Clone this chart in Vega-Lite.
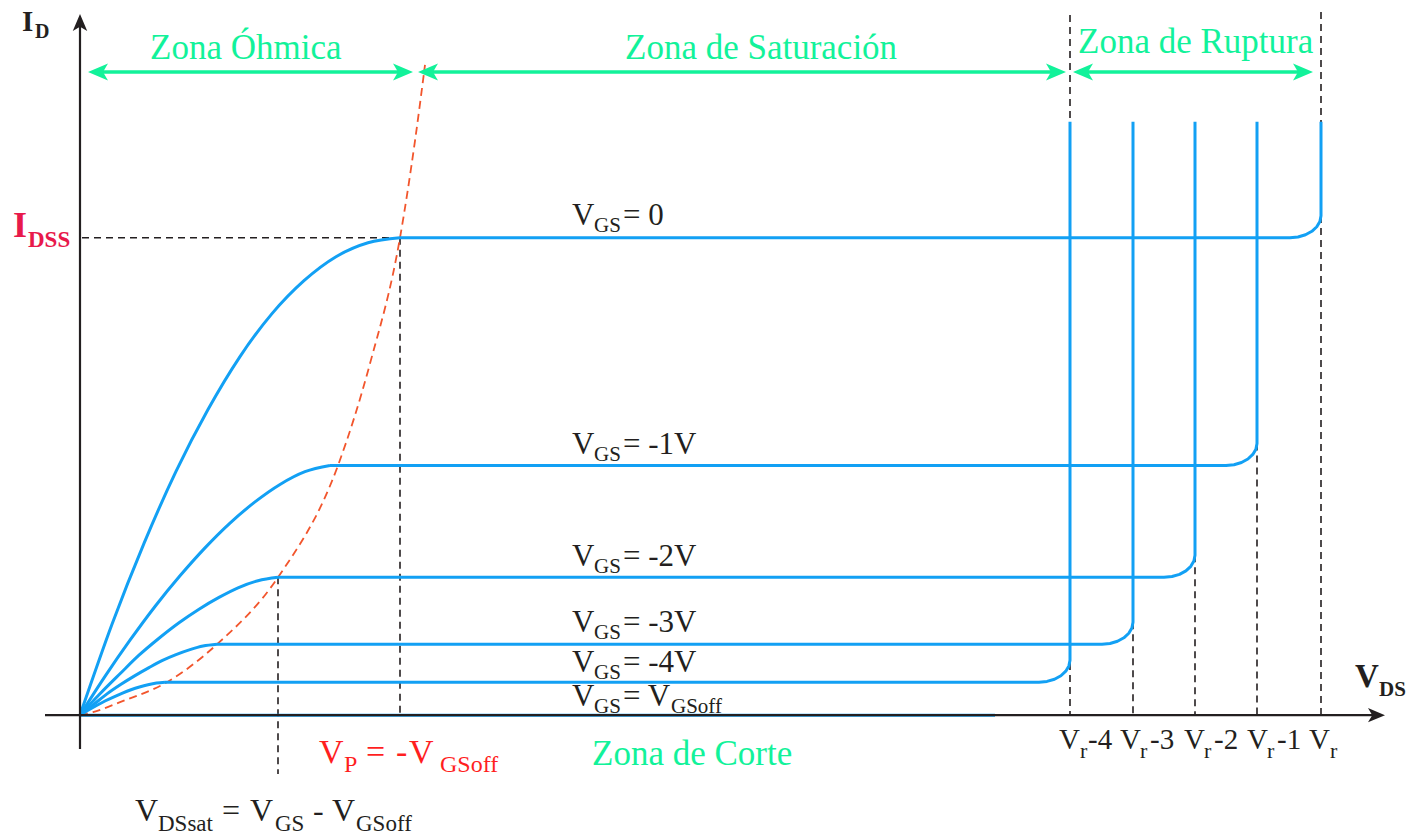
{
  "$schema": "https://vega.github.io/schema/vega-lite/v6.json",
  "width": 1424,
  "height": 836,
  "autosize": {"type": "fit", "contains": "padding"},
  "padding": 0,
  "background": "white",
  "config": {"view": {"stroke": null}},
  "datasets": {
    "curves": [
      {"vgs": "0", "part": "ohmic", "i": 0, "x": 0, "y": 0}, {"vgs": "0", "part": "ohmic", "i": 1, "x": 32, "y": 91}, {"vgs": "0", "part": "ohmic", "i": 2, "x": 64, "y": 172},
      {"vgs": "0", "part": "ohmic", "i": 3, "x": 96, "y": 244}, {"vgs": "0", "part": "ohmic", "i": 4, "x": 128, "y": 306}, {"vgs": "0", "part": "ohmic", "i": 5, "x": 160, "y": 359},
      {"vgs": "0", "part": "ohmic", "i": 6, "x": 192, "y": 402}, {"vgs": "0", "part": "ohmic", "i": 7, "x": 224, "y": 435}, {"vgs": "0", "part": "ohmic", "i": 8, "x": 256, "y": 459},
      {"vgs": "0", "part": "ohmic", "i": 9, "x": 288, "y": 473}, {"vgs": "0", "part": "ohmic", "i": 10, "x": 320, "y": 478},
      {"vgs": "0", "part": "rest", "i": 0, "x": 320, "y": 478}, {"vgs": "0", "part": "rest", "i": 1, "x": 1210, "y": 478},
      {"vgs": "0", "part": "rest", "i": 2, "x": 1218, "y": 478.75}, {"vgs": "0", "part": "rest", "i": 3, "x": 1225.5, "y": 480.95},
      {"vgs": "0", "part": "rest", "i": 4, "x": 1231.9, "y": 484.44}, {"vgs": "0", "part": "rest", "i": 5, "x": 1236.8, "y": 489},
      {"vgs": "0", "part": "rest", "i": 6, "x": 1239.9, "y": 494.3}, {"vgs": "0", "part": "rest", "i": 7, "x": 1241, "y": 500},
      {"vgs": "0", "part": "rest", "i": 8, "x": 1241, "y": 594},

      {"vgs": "-1", "part": "ohmic", "i": 0, "x": 0, "y": 0}, {"vgs": "-1", "part": "ohmic", "i": 1, "x": 25, "y": 38.8}, {"vgs": "-1", "part": "ohmic", "i": 2, "x": 50, "y": 75},
      {"vgs": "-1", "part": "ohmic", "i": 3, "x": 75, "y": 108.8}, {"vgs": "-1", "part": "ohmic", "i": 4, "x": 100, "y": 139.5}, {"vgs": "-1", "part": "ohmic", "i": 5, "x": 125, "y": 167.5},
      {"vgs": "-1", "part": "ohmic", "i": 6, "x": 150, "y": 192.3}, {"vgs": "-1", "part": "ohmic", "i": 7, "x": 175, "y": 213.5}, {"vgs": "-1", "part": "ohmic", "i": 8, "x": 200, "y": 231},
      {"vgs": "-1", "part": "ohmic", "i": 9, "x": 225, "y": 243.8}, {"vgs": "-1", "part": "ohmic", "i": 10, "x": 250, "y": 250},
      {"vgs": "-1", "part": "rest", "i": 0, "x": 250, "y": 250}, {"vgs": "-1", "part": "rest", "i": 1, "x": 1146, "y": 250},
      {"vgs": "-1", "part": "rest", "i": 2, "x": 1154, "y": 250.75}, {"vgs": "-1", "part": "rest", "i": 3, "x": 1161.5, "y": 252.95},
      {"vgs": "-1", "part": "rest", "i": 4, "x": 1167.9, "y": 256.44}, {"vgs": "-1", "part": "rest", "i": 5, "x": 1172.8, "y": 261},
      {"vgs": "-1", "part": "rest", "i": 6, "x": 1175.9, "y": 266.3}, {"vgs": "-1", "part": "rest", "i": 7, "x": 1177, "y": 272},
      {"vgs": "-1", "part": "rest", "i": 8, "x": 1177, "y": 594},

      {"vgs": "-2", "part": "ohmic", "i": 0, "x": 0, "y": 0}, {"vgs": "-2", "part": "ohmic", "i": 1, "x": 20, "y": 21.4}, {"vgs": "-2", "part": "ohmic", "i": 2, "x": 40, "y": 41.4},
      {"vgs": "-2", "part": "ohmic", "i": 3, "x": 59, "y": 60}, {"vgs": "-2", "part": "ohmic", "i": 4, "x": 79, "y": 77}, {"vgs": "-2", "part": "ohmic", "i": 5, "x": 99, "y": 92.5},
      {"vgs": "-2", "part": "ohmic", "i": 6, "x": 119, "y": 106.1}, {"vgs": "-2", "part": "ohmic", "i": 7, "x": 139, "y": 117.9}, {"vgs": "-2", "part": "ohmic", "i": 8, "x": 158, "y": 127.5},
      {"vgs": "-2", "part": "ohmic", "i": 9, "x": 178, "y": 134.6}, {"vgs": "-2", "part": "ohmic", "i": 10, "x": 198, "y": 138},
      {"vgs": "-2", "part": "rest", "i": 0, "x": 198, "y": 138}, {"vgs": "-2", "part": "rest", "i": 1, "x": 1084, "y": 138},
      {"vgs": "-2", "part": "rest", "i": 2, "x": 1092, "y": 138.75}, {"vgs": "-2", "part": "rest", "i": 3, "x": 1099.5, "y": 140.95},
      {"vgs": "-2", "part": "rest", "i": 4, "x": 1105.9, "y": 144.44}, {"vgs": "-2", "part": "rest", "i": 5, "x": 1110.8, "y": 149},
      {"vgs": "-2", "part": "rest", "i": 6, "x": 1113.9, "y": 154.3}, {"vgs": "-2", "part": "rest", "i": 7, "x": 1115, "y": 160},
      {"vgs": "-2", "part": "rest", "i": 8, "x": 1115, "y": 594},

      {"vgs": "-3", "part": "ohmic", "i": 0, "x": 0, "y": 0}, {"vgs": "-3", "part": "ohmic", "i": 1, "x": 14, "y": 11}, {"vgs": "-3", "part": "ohmic", "i": 2, "x": 27, "y": 21.3},
      {"vgs": "-3", "part": "ohmic", "i": 3, "x": 41, "y": 30.9}, {"vgs": "-3", "part": "ohmic", "i": 4, "x": 55, "y": 39.6}, {"vgs": "-3", "part": "ohmic", "i": 5, "x": 69, "y": 47.6},
      {"vgs": "-3", "part": "ohmic", "i": 6, "x": 82, "y": 54.6}, {"vgs": "-3", "part": "ohmic", "i": 7, "x": 96, "y": 60.6}, {"vgs": "-3", "part": "ohmic", "i": 8, "x": 110, "y": 65.6},
      {"vgs": "-3", "part": "ohmic", "i": 9, "x": 123, "y": 69.2}, {"vgs": "-3", "part": "ohmic", "i": 10, "x": 137, "y": 71},
      {"vgs": "-3", "part": "rest", "i": 0, "x": 137, "y": 71}, {"vgs": "-3", "part": "rest", "i": 1, "x": 1022, "y": 71},
      {"vgs": "-3", "part": "rest", "i": 2, "x": 1030, "y": 71.75}, {"vgs": "-3", "part": "rest", "i": 3, "x": 1037.5, "y": 73.95},
      {"vgs": "-3", "part": "rest", "i": 4, "x": 1043.9, "y": 77.44}, {"vgs": "-3", "part": "rest", "i": 5, "x": 1048.8, "y": 82},
      {"vgs": "-3", "part": "rest", "i": 6, "x": 1051.9, "y": 87.3}, {"vgs": "-3", "part": "rest", "i": 7, "x": 1053, "y": 93},
      {"vgs": "-3", "part": "rest", "i": 8, "x": 1053, "y": 594},

      {"vgs": "-4", "part": "ohmic", "i": 0, "x": 0, "y": 0}, {"vgs": "-4", "part": "ohmic", "i": 1, "x": 8.5, "y": 5.1}, {"vgs": "-4", "part": "ohmic", "i": 2, "x": 17, "y": 9.9},
      {"vgs": "-4", "part": "ohmic", "i": 3, "x": 25.5, "y": 14.4}, {"vgs": "-4", "part": "ohmic", "i": 4, "x": 34, "y": 18.4}, {"vgs": "-4", "part": "ohmic", "i": 5, "x": 42.5, "y": 22.1},
      {"vgs": "-4", "part": "ohmic", "i": 6, "x": 51, "y": 25.4}, {"vgs": "-4", "part": "ohmic", "i": 7, "x": 59.5, "y": 28.2}, {"vgs": "-4", "part": "ohmic", "i": 8, "x": 68, "y": 30.5},
      {"vgs": "-4", "part": "ohmic", "i": 9, "x": 76.5, "y": 32.2}, {"vgs": "-4", "part": "ohmic", "i": 10, "x": 85, "y": 33},
      {"vgs": "-4", "part": "rest", "i": 0, "x": 85, "y": 33}, {"vgs": "-4", "part": "rest", "i": 1, "x": 959, "y": 33},
      {"vgs": "-4", "part": "rest", "i": 2, "x": 967, "y": 33.75}, {"vgs": "-4", "part": "rest", "i": 3, "x": 974.5, "y": 35.95},
      {"vgs": "-4", "part": "rest", "i": 4, "x": 980.9, "y": 39.44}, {"vgs": "-4", "part": "rest", "i": 5, "x": 985.8, "y": 44},
      {"vgs": "-4", "part": "rest", "i": 6, "x": 988.9, "y": 49.3}, {"vgs": "-4", "part": "rest", "i": 7, "x": 990, "y": 55},
      {"vgs": "-4", "part": "rest", "i": 8, "x": 990, "y": 594},

      {"vgs": "off", "part": "rest", "i": 0, "x": 0, "y": 0}, {"vgs": "off", "part": "rest", "i": 1, "x": 915, "y": 0}
    ],
    "locus": [
      {"x": 0, "y": 0}, {"x": 13, "y": 3}, {"x": 40, "y": 13}, {"x": 87, "y": 33}, {"x": 137, "y": 71},
      {"x": 198, "y": 138}, {"x": 258, "y": 250}, {"x": 290, "y": 352}, {"x": 320, "y": 478},
      {"x": 335, "y": 575}, {"x": 345, "y": 651}
    ],
    "guides": [
      {"x": 2, "y": 478, "x2": 320, "y2": 478},
      {"x": 320, "y": 478, "x2": 320, "y2": 0},
      {"x": 198, "y": 138, "x2": 198, "y2": -59},
      {"x": 990, "y": 701, "x2": 990, "y2": 0},
      {"x": 1053, "y": 93, "x2": 1053, "y2": 0},
      {"x": 1115, "y": 160, "x2": 1115, "y2": 0},
      {"x": 1177, "y": 272, "x2": 1177, "y2": 0},
      {"x": 1241, "y": 704, "x2": 1241, "y2": 0}
    ],
    "axes": [
      {"x": -35, "y": 0, "x2": 1298, "y2": 0},
      {"x": 0, "y": -34, "x2": 0, "y2": 692}
    ],
    "heads": [
      {"set": "axis", "dir": "right", "x": 1305, "y": 0},
      {"set": "axis", "dir": "up", "x": 0, "y": 702},
      {"set": "zone", "dir": "left", "x": 8, "y": 644},
      {"set": "zone", "dir": "right", "x": 333, "y": 644},
      {"set": "zone", "dir": "left", "x": 338, "y": 644},
      {"set": "zone", "dir": "right", "x": 986, "y": 644},
      {"set": "zone", "dir": "left", "x": 993, "y": 644},
      {"set": "zone", "dir": "right", "x": 1233, "y": 644}
    ],
    "spans": [
      {"x": 20, "x2": 321, "y": 644},
      {"x": 350, "x2": 974, "y": 644},
      {"x": 1005, "x2": 1221, "y": 644}
    ],
    "labels": [
      {"x": -58, "y": 685, "t": "I", "kind": "id"},
      {"x": -45, "y": 678, "t": "D", "kind": "idSub"},
      {"x": -67, "y": 479, "t": "I", "kind": "idss"},
      {"x": -52, "y": 469, "t": "DSS", "kind": "idssSub"},
      {"x": 1275, "y": 28, "t": "V", "kind": "vds"},
      {"x": 1299, "y": 19, "t": "DS", "kind": "vdsSub"},

      {"x": 70, "y": 657, "t": "Zona Óhmica", "kind": "zone"},
      {"x": 545, "y": 657, "t": "Zona de Saturación", "kind": "zone"},
      {"x": 998, "y": 663, "t": "Zona de Ruptura", "kind": "zone"},
      {"x": 512, "y": -50, "t": "Zona de Corte", "kind": "zone"},

      {"x": 492, "y": 491, "t": "V", "kind": "vgs"}, {"x": 514, "y": 484, "t": "GS", "kind": "vgsSub"}, {"x": 543, "y": 491, "t": "= 0", "kind": "vgs"},
      {"x": 492, "y": 261, "t": "V", "kind": "vgs"}, {"x": 514, "y": 254, "t": "GS", "kind": "vgsSub"}, {"x": 543, "y": 261, "t": "= -1V", "kind": "vgs"},
      {"x": 492, "y": 149, "t": "V", "kind": "vgs"}, {"x": 514, "y": 142, "t": "GS", "kind": "vgsSub"}, {"x": 543, "y": 149, "t": "= -2V", "kind": "vgs"},
      {"x": 492, "y": 83, "t": "V", "kind": "vgs"}, {"x": 514, "y": 76, "t": "GS", "kind": "vgsSub"}, {"x": 543, "y": 83, "t": "= -3V", "kind": "vgs"},
      {"x": 492, "y": 43, "t": "V", "kind": "vgs"}, {"x": 514, "y": 36, "t": "GS", "kind": "vgsSub"}, {"x": 543, "y": 43, "t": "= -4V", "kind": "vgs"},
      {"x": 492, "y": 9, "t": "V", "kind": "vgs"}, {"x": 514, "y": 2, "t": "GS", "kind": "vgsSub"}, {"x": 543, "y": 9, "t": "= V", "kind": "vgs"},
      {"x": 591, "y": 2, "t": "GSoff", "kind": "vgsSub"},

      {"x": 979, "y": -34, "t": "V", "kind": "vr"}, {"x": 1000, "y": -43, "t": "r", "kind": "vrSub"}, {"x": 1008, "y": -34, "t": "-4", "kind": "vr"},
      {"x": 1040, "y": -34, "t": "V", "kind": "vr"}, {"x": 1060, "y": -43, "t": "r", "kind": "vrSub"}, {"x": 1070, "y": -34, "t": "-3", "kind": "vr"},
      {"x": 1104, "y": -34, "t": "V", "kind": "vr"}, {"x": 1124, "y": -43, "t": "r", "kind": "vrSub"}, {"x": 1134, "y": -34, "t": "-2", "kind": "vr"},
      {"x": 1167, "y": -34, "t": "V", "kind": "vr"}, {"x": 1187, "y": -43, "t": "r", "kind": "vrSub"}, {"x": 1197, "y": -34, "t": "-1", "kind": "vr"},
      {"x": 1229, "y": -34, "t": "V", "kind": "vr"}, {"x": 1250, "y": -43, "t": "r", "kind": "vrSub"},

      {"x": 239, "y": -48, "t": "V", "kind": "vp"}, {"x": 264, "y": -57, "t": "P", "kind": "vpSub"},
      {"x": 286, "y": -48, "t": "=", "kind": "vp"}, {"x": 316, "y": -48, "t": "-", "kind": "vp"},
      {"x": 329, "y": -48, "t": "V", "kind": "vp"}, {"x": 360, "y": -57, "t": "GSoff", "kind": "vpSub"},

      {"x": 55, "y": -106, "t": "V", "kind": "vdssat"}, {"x": 78, "y": -116, "t": "DSsat", "kind": "vdssatSub"},
      {"x": 142, "y": -106, "t": "=", "kind": "vdssat"}, {"x": 170, "y": -106, "t": "V", "kind": "vdssat"},
      {"x": 195, "y": -116, "t": "GS", "kind": "vdssatSub"}, {"x": 233, "y": -106, "t": "-", "kind": "vdssat"},
      {"x": 252, "y": -106, "t": "V", "kind": "vdssat"}, {"x": 276, "y": -116, "t": "GSoff", "kind": "vdssatSub"}
    ]
  },
  "encoding": {
    "x": {"field": "x", "type": "quantitative", "scale": {"domain": [-80, 1344], "nice": false, "zero": false}, "axis": null},
    "y": {"field": "y", "type": "quantitative", "scale": {"domain": [-120, 716], "nice": false, "zero": false}, "axis": null}
  },
  "layer": [
    {
      "data": {"name": "guides"},
      "mark": {"type": "rule", "color": "#231f20", "strokeWidth": 1.6, "strokeDash": [7, 5]},
      "encoding": {"x2": {"field": "x2"}, "y2": {"field": "y2"}}
    },
    {
      "data": {"name": "locus"},
      "mark": {"type": "line", "interpolate": "monotone", "color": "#f2552c", "strokeWidth": 1.8, "strokeDash": [8, 5]},
      "encoding": {}
    },
    {
      "data": {"name": "curves"},
      "transform": [{"filter": "datum.part === 'ohmic'"}],
      "mark": {"type": "line", "interpolate": "monotone", "color": "#12a0f4", "strokeWidth": 3, "strokeJoin": "round"},
      "encoding": {"detail": {"field": "vgs"}, "order": {"field": "i", "type": "quantitative"}}
    },
    {
      "data": {"name": "curves"},
      "transform": [{"filter": "datum.part === 'rest'"}],
      "mark": {"type": "line", "interpolate": "linear", "color": "#12a0f4", "strokeWidth": 3, "strokeJoin": "round"},
      "encoding": {"detail": {"field": "vgs"}, "order": {"field": "i", "type": "quantitative"}}
    },
    {
      "data": {"name": "axes"},
      "mark": {"type": "rule", "color": "#231f20", "strokeWidth": 2.2},
      "encoding": {"x2": {"field": "x2"}, "y2": {"field": "y2"}}
    },
    {
      "data": {"name": "heads"},
      "transform": [{"filter": "datum.set === 'axis' && datum.dir === 'right'"}],
      "mark": {"type": "point", "shape": "M0,0L-2,-0.85L-1.5,0L-2,0.85Z", "filled": true, "size": 289, "color": "#231f20", "strokeWidth": 0, "opacity": 1}
    },
    {
      "data": {"name": "heads"},
      "transform": [{"filter": "datum.set === 'axis' && datum.dir === 'up'"}],
      "mark": {"type": "point", "shape": "M0,0L-0.85,2L0,1.5L0.85,2Z", "filled": true, "size": 289, "color": "#231f20", "strokeWidth": 0, "opacity": 1}
    },
    {
      "data": {"name": "spans"},
      "mark": {"type": "rule", "color": "#12f29a", "strokeWidth": 3.5},
      "encoding": {"x2": {"field": "x2"}}
    },
    {
      "data": {"name": "heads"},
      "transform": [{"filter": "datum.set === 'zone' && datum.dir === 'right'"}],
      "mark": {"type": "point", "shape": "M0,0L-2,-0.85L-1.5,0L-2,0.85Z", "filled": true, "size": 400, "color": "#12f29a", "strokeWidth": 0, "opacity": 1}
    },
    {
      "data": {"name": "heads"},
      "transform": [{"filter": "datum.set === 'zone' && datum.dir === 'left'"}],
      "mark": {"type": "point", "shape": "M0,0L2,-0.85L1.5,0L2,0.85Z", "filled": true, "size": 400, "color": "#12f29a", "strokeWidth": 0, "opacity": 1}
    },
    {
      "data": {"name": "labels"},
      "transform": [{"filter": {"field": "kind", "oneOf": ["zone", "vgs", "vgsSub", "vr", "vrSub", "vp", "vpSub", "vdssat", "vdssatSub"]}}],
      "mark": {"type": "text", "align": "left", "baseline": "alphabetic", "font": "Liberation Serif"},
      "encoding": {
        "text": {"field": "t"},
        "size": {"field": "kind", "type": "nominal", "legend": null,
          "scale": {"type": "ordinal",
                    "domain": ["zone", "vgs", "vgsSub", "vr", "vrSub", "vp", "vpSub", "vdssat", "vdssatSub", "vds", "vdsSub", "id", "idSub", "idss", "idssSub"],
                    "range": [35, 31, 21, 29, 22, 34, 24, 32, 23, 33, 21, 29, 20, 36, 23]}},
        "color": {"field": "kind", "type": "nominal", "legend": null,
          "scale": {"domain": ["zone", "vgs", "vgsSub", "vr", "vrSub", "vp", "vpSub", "vdssat", "vdssatSub", "vds", "vdsSub", "id", "idSub", "idss", "idssSub"],
                    "range": ["#12f29a", "#231f20", "#231f20", "#231f20", "#231f20", "#ff1f1f", "#ff1f1f", "#231f20", "#231f20", "#231f20", "#231f20", "#231f20", "#231f20", "#e8194b", "#e8194b"]}}
      }
    },
    {
      "data": {"name": "labels"},
      "transform": [{"filter": {"field": "kind", "oneOf": ["vds", "vdsSub", "id", "idSub", "idss", "idssSub"]}}],
      "mark": {"type": "text", "align": "left", "baseline": "alphabetic", "font": "Liberation Serif", "fontWeight": "bold"},
      "encoding": {
        "text": {"field": "t"},
        "size": {"field": "kind", "type": "nominal", "legend": null,
          "scale": {"type": "ordinal",
                    "domain": ["zone", "vgs", "vgsSub", "vr", "vrSub", "vp", "vpSub", "vdssat", "vdssatSub", "vds", "vdsSub", "id", "idSub", "idss", "idssSub"],
                    "range": [35, 31, 21, 29, 22, 34, 24, 32, 23, 33, 21, 29, 20, 36, 23]}},
        "color": {"field": "kind", "type": "nominal", "legend": null,
          "scale": {"domain": ["zone", "vgs", "vgsSub", "vr", "vrSub", "vp", "vpSub", "vdssat", "vdssatSub", "vds", "vdsSub", "id", "idSub", "idss", "idssSub"],
                    "range": ["#12f29a", "#231f20", "#231f20", "#231f20", "#231f20", "#ff1f1f", "#ff1f1f", "#231f20", "#231f20", "#231f20", "#231f20", "#231f20", "#231f20", "#e8194b", "#e8194b"]}}
      }
    }
  ]
}
